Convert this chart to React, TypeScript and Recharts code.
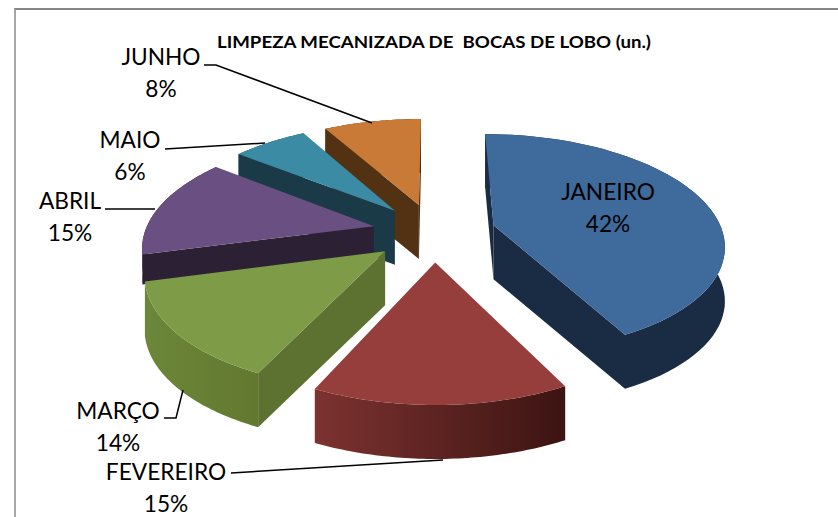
import { PieChart, Pie } from 'recharts';

// drawing order goes counter-clockwise from JUNHO so the slices overlap like in the original
const MONTHS = ['JUNHO', 'MAIO', 'ABRIL', 'MARÇO', 'FEVEREIRO', 'JANEIRO'];
const SHARES = [8.2, 6.3, 14.6, 13.9, 14.6, 42.4];
const TOP_COLORS = ['#c97a37', '#3a8ba3', '#6a4f82', '#7e9b48', '#953e3c', '#3f6a9c'];
const RIM_LEFT = ['#533214', '#1a3b47', '#2c2035', '#6c8739', '#7c3230', '#1a2c44'];
const RIM_RIGHT = ['#533214', '#1a3b47', '#2c2035', '#62782f', '#3c1412', '#1a2c44'];
const CUT_COLORS = ['#533214', '#193a46', '#2c2035', '#5d7130', '#6b2c2a', '#1a2c44'];
// ABRIL is mostly behind MARÇO, a shorter wall keeps it from poking out at the left
const DEPTHS = [54, 54, 30, 54, 54, 54];

const pieData = MONTHS.map((name, i) => ({ name, value: SHARES[i] }));

// label layout: text centre, and the leader line in page pixels
const LABELS: Record<string, { x: number; y: number; line?: [number, number][] }> = {
  JANEIRO: { x: 608, y: 200 },
  FEVEREIRO: { x: 166, y: 480, line: [[231, 473], [443, 460]] },
  'MARÇO': { x: 118, y: 419, line: [[164, 418], [176, 418], [183, 390]] },
  ABRIL: { x: 70, y: 209, line: [[105, 209], [155, 209]] },
  MAIO: { x: 130, y: 148, line: [[165, 149], [265, 143]] },
  JUNHO: { x: 161, y: 65, line: [[204, 65], [216, 65], [372, 123]] },
};

const CX = 434;
const CY = 232;
const EXPLODE = 0.27;
const PERSP = 0.163;
const Y_SCALE = 108;

// project a point of the pie plane onto the page, nearer points come out bigger
function project(px: number, py: number, radius: number) {
  const k = 1 - PERSP * py;
  return [CX + (px * radius) / k, CY + (py * Y_SCALE) / k];
}

function toPath(pts: number[][]) {
  return pts.map((p, i) => `${i === 0 ? 'M' : 'L'}${p[0].toFixed(1)} ${p[1].toFixed(1)}`).join(' ') + ' Z';
}

function Slice3D(props: any) {
  const { startAngle, endAngle, outerRadius, index } = props;
  const i = index ?? MONTHS.indexOf(props.name);
  const depth = DEPTHS[i];
  const mid = ((startAngle + endAngle) / 2) * (Math.PI / 180);
  const ox = EXPLODE * Math.cos(mid);
  const oy = -EXPLODE * Math.sin(mid);

  const rim: number[][] = [];
  const steps = 60;
  for (let s = 0; s <= steps; s++) {
    const a = ((startAngle + ((endAngle - startAngle) * s) / steps) * Math.PI) / 180;
    rim.push(project(ox + Math.cos(a), oy - Math.sin(a), outerRadius));
  }
  const rimBottom = rim.map((p) => [p[0], p[1] + depth]);
  const apex = project(ox, oy, outerRadius);
  const middle = rim[Math.floor(steps / 2)];

  const cuts = [rim[0], rim[steps]].filter((p) => {
    const ax = p[0] - apex[0];
    const ay = p[1] - apex[1];
    const cross = ax * (middle[1] - apex[1]) - ay * (middle[0] - apex[0]);
    return Math.sign(cross) !== Math.sign(ax);
  });

  const gradId = `rim-${i}`;
  return (
    <g>
      <defs>
        <linearGradient id={gradId} x1="0" y1="0" x2="1" y2="0">
          <stop offset="0%" stopColor={RIM_LEFT[i]} />
          <stop offset="100%" stopColor={RIM_RIGHT[i]} />
        </linearGradient>
      </defs>
      <path d={toPath([...rim, ...rimBottom.reverse()])} fill={`url(#${gradId})`} />
      {cuts.map((p, c) => (
        <path key={c} d={toPath([apex, p, [p[0], p[1] + depth], [apex[0], apex[1] + depth]])} fill={CUT_COLORS[i]} />
      ))}
      <path d={toPath([apex, ...rim])} fill={TOP_COLORS[i]} />
    </g>
  );
}

function SliceLabel(props: any) {
  const { name, percent } = props;
  const spot = LABELS[name];
  return (
    <g>
      {spot.line && (
        <polyline points={spot.line.map((p) => p.join(',')).join(' ')} fill="none" stroke="#000" strokeWidth={1.5} />
      )}
      <text x={spot.x} y={spot.y} textAnchor="middle" fontFamily="Lato" fontSize={22.7} fill="#000">
        {name}
      </text>
      <text x={spot.x} y={spot.y + 32} textAnchor="middle" fontFamily="Lato" fontSize={22.7} fill="#000">
        {`${Math.round(percent * 100)}%`}
      </text>
    </g>
  );
}

export default function App() {
  return (
    <div style={{ position: 'absolute', left: 0, top: 0, width: 838, height: 517, background: '#fff', overflow: 'hidden' }}>
      <div style={{ position: 'absolute', left: 14, top: 8, width: 840, height: 520, borderTop: '2px solid #858585', borderLeft: '2px solid #a6a6a6' }} />
      <div style={{ position: 'absolute', left: 0, top: 0 }}>
        <PieChart width={838} height={517} margin={{ top: 0, right: 0, bottom: 0, left: 0 }}>
          <text x={217} y={48} fontFamily="Lato" fontWeight={700} fontSize={17.5} fill="#000" textLength={434} lengthAdjust="spacingAndGlyphs" style={{ whiteSpace: 'pre' }}>
            LIMPEZA MECANIZADA DE  BOCAS DE LOBO (un.)
          </text>
          <Pie
            data={pieData}
            dataKey="value"
            nameKey="name"
            cx={CX}
            cy={CY}
            outerRadius={229}
            startAngle={90}
            endAngle={450}
            paddingAngle={0}
            stroke="none"
            shape={Slice3D}
            label={SliceLabel}
            labelLine={false}
            isAnimationActive={false}
          />
        </PieChart>
      </div>
    </div>
  );
}
